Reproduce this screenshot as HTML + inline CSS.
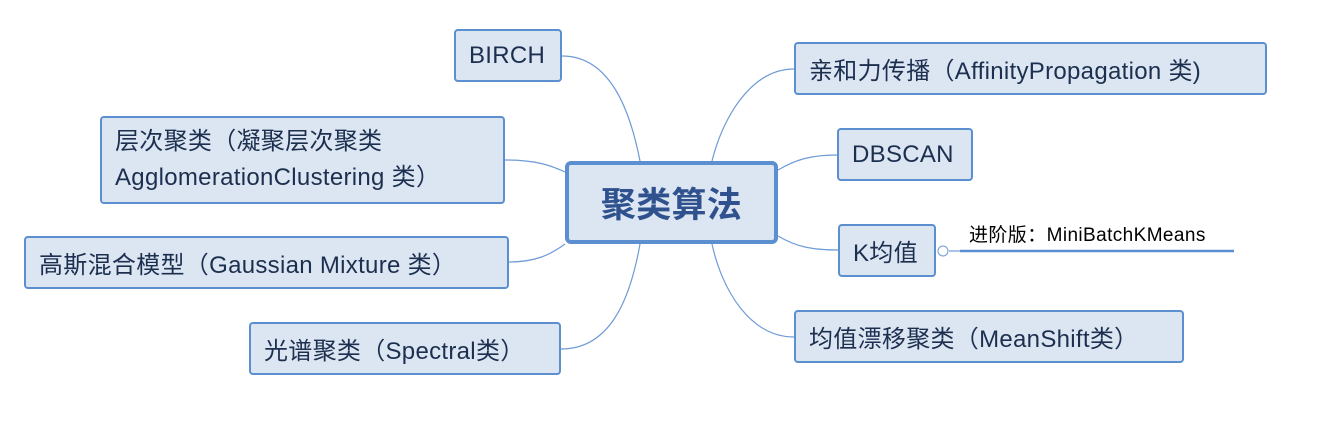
<!DOCTYPE html>
<html><head><meta charset="utf-8"><style>
body{margin:0;width:1325px;height:442px;background:#fff;position:relative;overflow:hidden;font-family:"Liberation Sans","Noto Sans CJK SC",sans-serif}
.n{position:absolute;box-sizing:border-box;border:2px solid #5b8fd0;background:#dce6f2;border-radius:4px;color:#1c2f4f;font-size:24px;display:flex;align-items:center;padding-left:13px;white-space:nowrap;letter-spacing:0.3px}
svg{position:absolute;left:0;top:0}
</style></head><body>
<svg width="1325" height="442">
<g fill="none" stroke="#6f9bd6" stroke-width="1.2">
<path d="M562,56 C610,56 630,110 640,161"/>
<path d="M794,69 C750,69 722,120 712,161"/>
<path d="M778,170 C795,160 810,155 837,155"/>
<path d="M778,236 C795,246 810,250 838,250"/>
<path d="M794,337 C750,337 722,290 712,244"/>
<path d="M505,160 C535,160 550,165 565,172"/>
<path d="M509,262 C535,262 550,255 565,244"/>
<path d="M561,349 C610,349 630,300 640,244"/>
<path d="M949,251 H960"/>
</g>
<circle cx="943" cy="251" r="5" fill="#fff" stroke="#6f9bd6" stroke-width="1"/>
<line x1="960" y1="251" x2="1234" y2="251" stroke="#5b8fd0" stroke-width="2.5"/>
</svg>
<div class="n" style="left:565px;top:161px;width:213px;height:83px;border-width:4px;border-radius:6px;justify-content:center;padding:0;font-size:35px;font-weight:bold;color:#2f528f">聚类算法</div>
<div class="n" style="left:454px;top:29px;width:108px;height:53px">BIRCH</div>
<div class="n" style="left:794px;top:42px;width:473px;height:53px">亲和力传播（AffinityPropagation 类)</div>
<div class="n" style="left:837px;top:128px;width:136px;height:53px">DBSCAN</div>
<div class="n" style="left:838px;top:224px;width:98px;height:53px">K均值</div>
<div class="n" style="left:794px;top:310px;width:390px;height:53px">均值漂移聚类（MeanShift类）</div>
<div class="n" style="left:100px;top:116px;width:405px;height:88px;line-height:36px"><div>层次聚类（凝聚层次聚类<br>AgglomerationClustering 类）</div></div>
<div class="n" style="left:24px;top:236px;width:485px;height:53px">高斯混合模型（Gaussian Mixture 类）</div>
<div class="n" style="left:249px;top:322px;width:312px;height:53px">光谱聚类（Spectral类）</div>
<div style="position:absolute;left:969px;top:220px;font-size:19px;letter-spacing:0.4px;color:#000;white-space:nowrap">进阶版：MiniBatchKMeans</div>
</body></html>
